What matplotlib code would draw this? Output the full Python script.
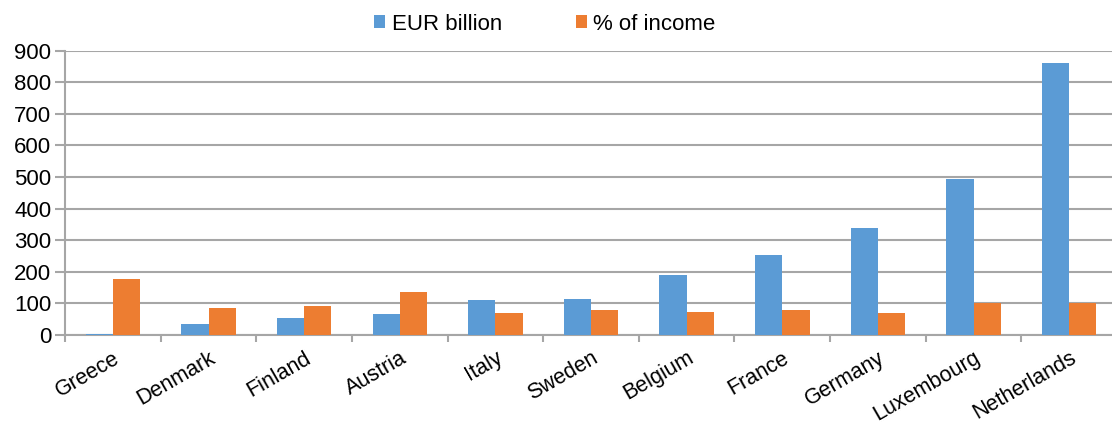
import numpy as np
import matplotlib.pyplot as plt

plt.rcParams['font.family'] = ['Liberation Sans', 'DejaVu Sans']

# datos por país
paises = ['Greece', 'Denmark', 'Finland', 'Austria', 'Italy', 'Sweden',
          'Belgium', 'France', 'Germany', 'Luxembourg', 'Netherlands']
eur_billion = [2, 36, 53, 67, 111, 114, 189, 254, 337, 493, 862]
pct_income = [176, 84, 91, 136, 70, 79, 73, 79, 71, 100, 102]

azul = '#5B9BD5'
naranja = '#ED7D31'
gris = '#A6A6A6'

fig = plt.figure(figsize=(11.12, 4.25), dpi=100)
ax = fig.add_axes([0.0585, 0.2118, 0.9460, 0.6692])

x = np.arange(len(paises))
ancho = 0.285
ax.bar(x - ancho / 2, eur_billion, ancho, color=azul, label='EUR billion', zorder=3)
ax.bar(x + ancho / 2, pct_income, ancho, color=naranja, label='% of income', zorder=3)

ax.set_xlim(-0.5, len(paises) - 0.5)
ax.set_ylim(0, 900)
ax.set_yticks(range(0, 901, 100))
ax.yaxis.grid(True, color=gris, linewidth=1.5, zorder=0)
ax.tick_params(axis='y', length=7, width=1.5, color=gris, labelsize=16, pad=3)

# marcas del eje x entre categorías
ax.set_xticks(np.arange(-0.5, len(paises), 1.0))
ax.set_xticklabels([])
ax.tick_params(axis='x', which='major', length=5, width=1.5, color=gris)
ax.set_xticks(x, minor=True)
ax.set_xticklabels(paises, minor=True, rotation=30, ha='right',
                   rotation_mode='anchor', fontsize=15.5)
ax.tick_params(axis='x', which='minor', length=0, pad=9)

for lado in ['top', 'right']:
    ax.spines[lado].set_visible(False)
for lado in ['left', 'bottom']:
    ax.spines[lado].set_color(gris)
    ax.spines[lado].set_linewidth(1.5)

fig.legend(loc='upper center', bbox_to_anchor=(0.49, 1.015), ncol=2, frameon=False,
           fontsize=16, handlelength=0.5, handleheight=0.5, handletextpad=0.3,
           columnspacing=3.3)

plt.savefig('out.png', dpi=100)
